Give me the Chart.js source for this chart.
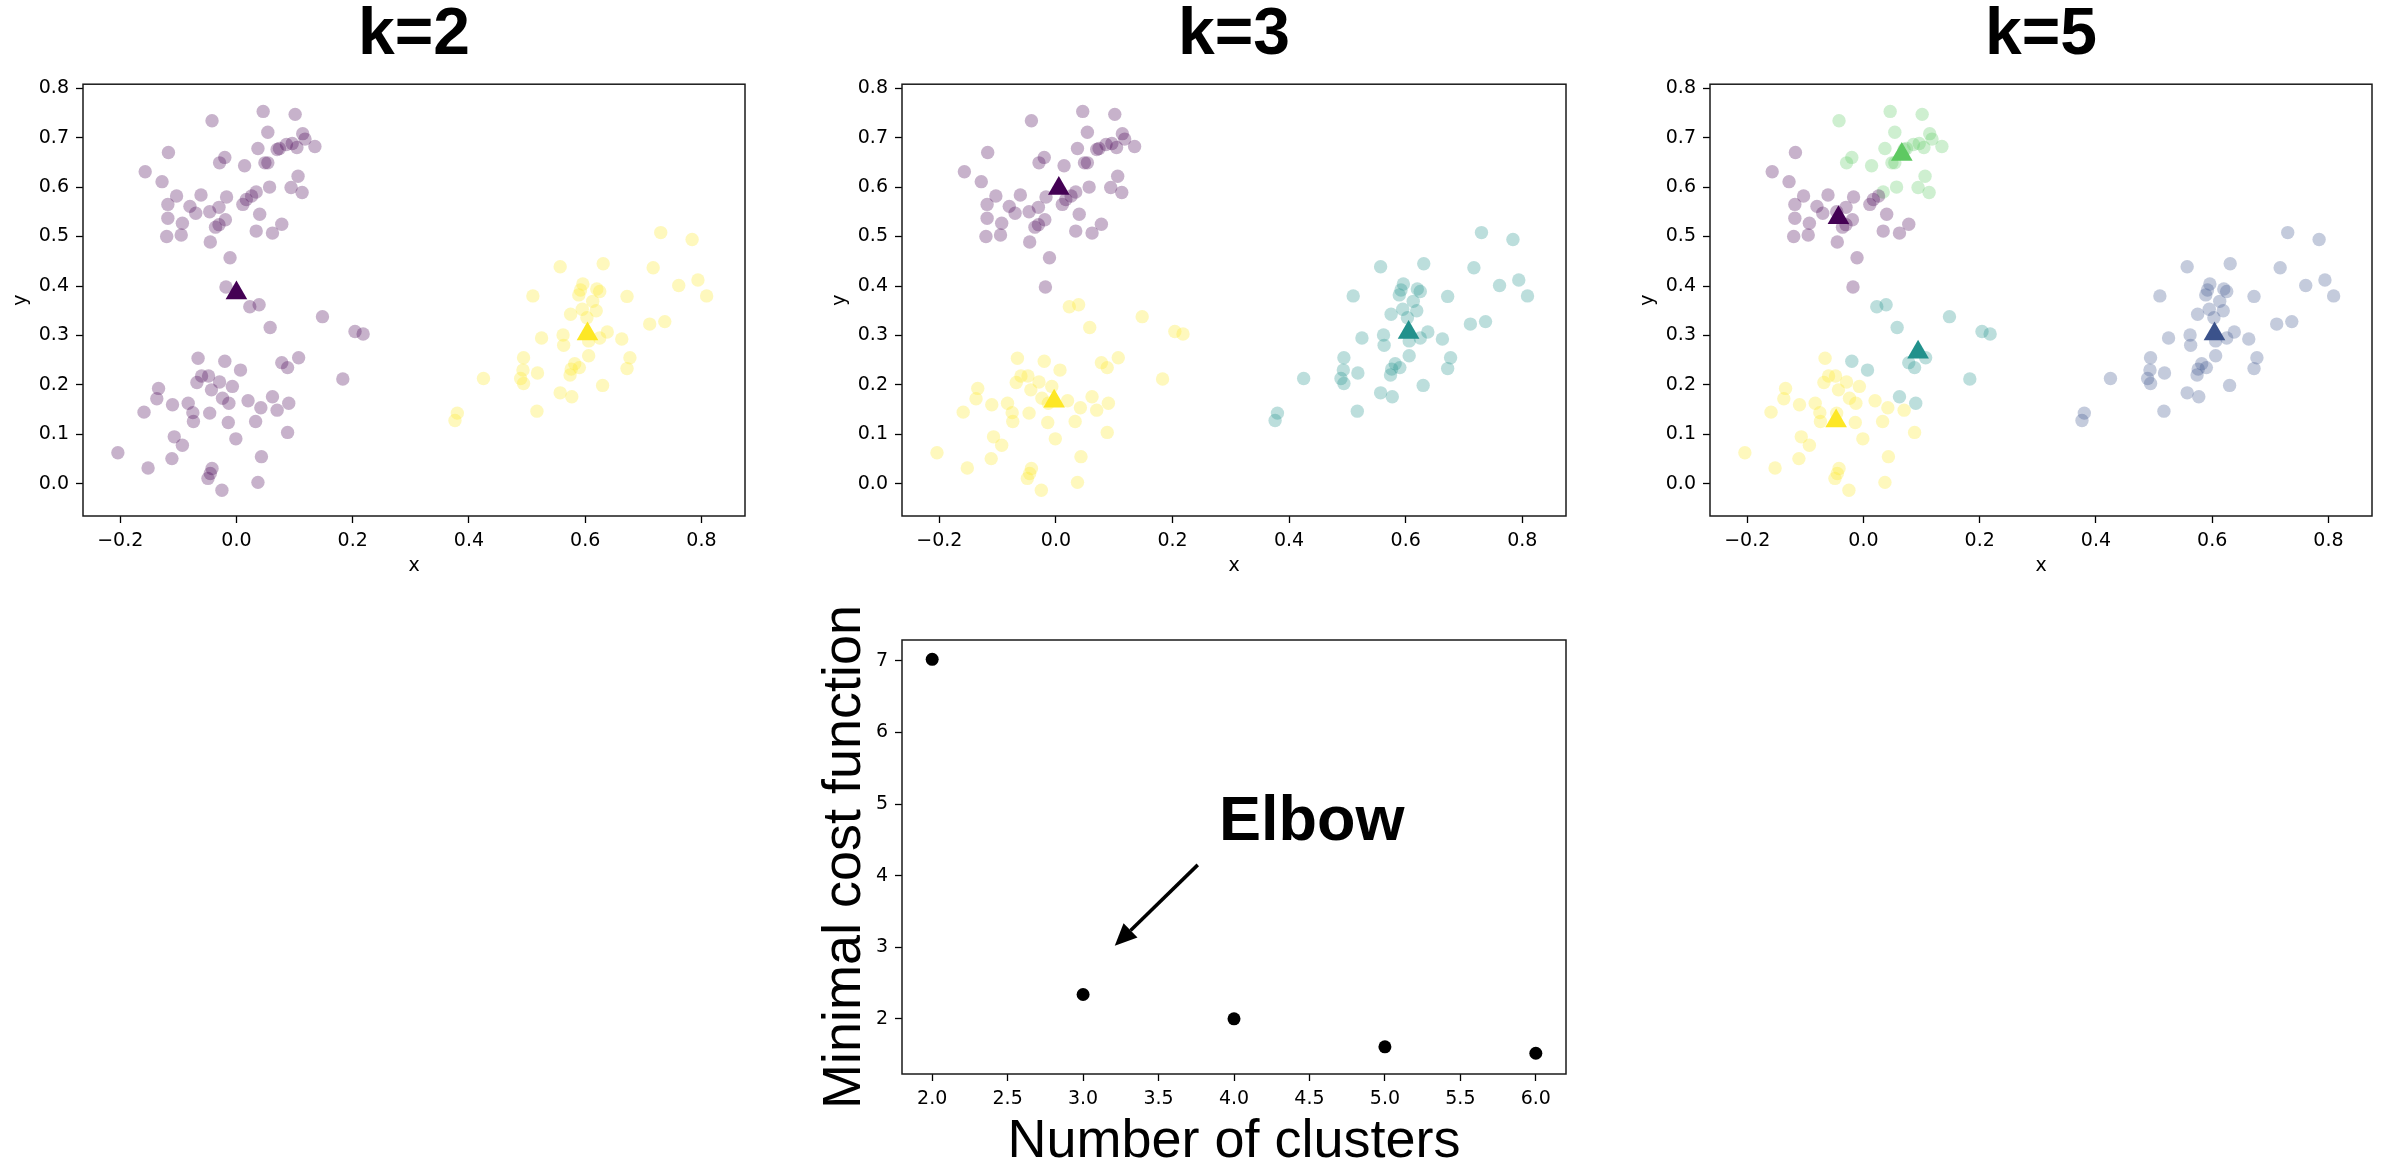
<!DOCTYPE html>
<html>
<head>
<meta charset="utf-8">
<script src="https://cdn.jsdelivr.net/npm/chart.js@4.4.0/dist/chart.umd.min.js"></script>
<style>
  html, body { margin: 0; padding: 0; background: #fff; overflow: hidden; }
  body { width: 2389px; height: 1170px; position: relative; }
  canvas { position: absolute; }
</style>
</head>
<body>
<canvas id="k2Chart"></canvas>
<canvas id="k3Chart"></canvas>
<canvas id="k5Chart"></canvas>
<canvas id="elbowChart"></canvas>
<script>
////////////////////////////////////
/////////////// DATA ///////////////
////////////////////////////////////

// upper-left blob
const topX = [-0.042, 0.046, 0.101, 0.054, 0.114, 0.118, -0.117, 0.037, 0.086, 0.096,
  0.074, 0.070, 0.104, 0.135, -0.020, -0.029, 0.014, 0.049, 0.054, -0.157,
  -0.128, 0.106, 0.094, 0.113, 0.057, -0.103, -0.061, -0.017, 0.034, 0.026,
  0.017, 0.011, -0.118, -0.080, -0.070, -0.046, -0.030, -0.118, -0.093, -0.019,
  -0.030, -0.036, 0.040, 0.078, 0.034, 0.062, -0.120, -0.095, -0.045, -0.011, -0.018];
const topY = [0.734, 0.753, 0.747, 0.711, 0.708, 0.697, 0.670, 0.678, 0.686, 0.688,
  0.678, 0.676, 0.680, 0.682, 0.660, 0.649, 0.643, 0.649, 0.649, 0.631,
  0.611, 0.622, 0.599, 0.589, 0.600, 0.582, 0.584, 0.580, 0.590, 0.582,
  0.575, 0.565, 0.565, 0.561, 0.547, 0.550, 0.559, 0.537, 0.527, 0.534,
  0.524, 0.519, 0.545, 0.525, 0.511, 0.507, 0.500, 0.503, 0.489, 0.457, 0.398];
// 1 = green group when k=5
const topK5 = [1, 1, 1, 1, 1, 1, 0, 1, 1, 1,
  1, 1, 1, 1, 1, 1, 1, 1, 1, 0,
  0, 1, 1, 1, 1, 0, 0, 0, 1, 0,
  0, 0, 0, 0, 0, 0, 0, 0, 0, 0,
  0, 0, 0, 0, 0, 0, 0, 0, 0, 0, 0];

// lower-left blob
const bottomX = [0.023, 0.039, 0.148, 0.058, 0.204, 0.218, -0.066, -0.020, 0.007, 0.078,
  0.088, 0.107, 0.183, -0.134, -0.137, -0.110, -0.159, -0.060, -0.048, -0.068,
  -0.029, -0.043, -0.007, -0.083, -0.075, -0.074, -0.046, -0.024, -0.013, 0.020,
  0.042, 0.062, 0.070, 0.090, -0.014, 0.033, 0.088, -0.001, -0.107, -0.093,
  -0.204, -0.152, -0.111, -0.042, -0.045, -0.049, -0.025, 0.043, 0.037];
const bottomY = [0.358, 0.362, 0.338, 0.316, 0.308, 0.303, 0.254, 0.248, 0.230, 0.245,
  0.235, 0.255, 0.212, 0.193, 0.172, 0.160, 0.145, 0.218, 0.218, 0.205,
  0.206, 0.190, 0.197, 0.163, 0.144, 0.126, 0.143, 0.173, 0.163, 0.168,
  0.154, 0.176, 0.149, 0.163, 0.124, 0.126, 0.104, 0.091, 0.095, 0.078,
  0.063, 0.032, 0.051, 0.031, 0.021, 0.011, -0.013, 0.055, 0.003];
// 1 = teal group when k=5
const bottomK5 = [1, 1, 1, 1, 1, 1, 0, 1, 1, 1,
  1, 1, 1, 0, 0, 0, 0, 0, 0, 0,
  0, 0, 0, 0, 0, 0, 0, 0, 0, 0,
  0, 1, 0, 1, 0, 0, 0, 0, 0, 0,
  0, 0, 0, 0, 0, 0, 0, 0, 0];

// right blob
const rightX = [0.730, 0.784, 0.557, 0.631, 0.717, 0.794, 0.761, 0.809, 0.510, 0.596,
  0.592, 0.589, 0.620, 0.625, 0.613, 0.672, 0.595, 0.619, 0.575, 0.603,
  0.711, 0.737, 0.638, 0.625, 0.606, 0.562, 0.525, 0.563, 0.663, 0.606,
  0.494, 0.677, 0.672, 0.582, 0.590, 0.576, 0.574, 0.493, 0.518, 0.489,
  0.494, 0.425, 0.557, 0.577, 0.630, 0.517, 0.380, 0.376];
const rightY = [0.508, 0.494, 0.439, 0.445, 0.437, 0.412, 0.401, 0.380, 0.380, 0.404,
  0.392, 0.382, 0.394, 0.389, 0.369, 0.379, 0.353, 0.350, 0.343, 0.336,
  0.323, 0.328, 0.307, 0.295, 0.289, 0.301, 0.295, 0.280, 0.293, 0.259,
  0.255, 0.255, 0.233, 0.243, 0.235, 0.232, 0.220, 0.230, 0.224, 0.213,
  0.203, 0.213, 0.184, 0.176, 0.199, 0.147, 0.143, 0.128];

// cluster centres
const k2CentX = [0.000, 0.604];
const k2CentY = [0.386, 0.303];
const k3CentX = [0.005, -0.003, 0.605];
const k3CentY = [0.597, 0.167, 0.306];
const k5CentX = [-0.043, 0.066, -0.047, 0.094, 0.604];
const k5CentY = [0.538, 0.666, 0.127, 0.266, 0.303];

// elbow curve
const kValues = [2, 3, 4, 5, 6];
const costValues = [7.02, 2.34, 2.0, 1.61, 1.52];

// ticks
const xyTicksX = [-0.2, 0.0, 0.2, 0.4, 0.6, 0.8];
const xyTicksY = [0.0, 0.1, 0.2, 0.3, 0.4, 0.5, 0.6, 0.7, 0.8];
const elbowTicksX = [2.0, 2.5, 3.0, 3.5, 4.0, 4.5, 5.0, 5.5, 6.0];
const elbowTicksY = [2, 3, 4, 5, 6, 7];

// annotation
const noteText = 'Elbow';
const noteAt = [3.9, 4.5];
const arrowFrom = [3.76, 4.15];
const arrowTo = [3.21, 3.02];

////////////////////////////////////
////////////// HELPERS /////////////
////////////////////////////////////

const PURPLE = '#440154';
const BLUE = '#3b528b';
const TEAL = '#21918c';
const GREEN = '#5ec962';
const YELLOW = '#fde725';

const tickFont = { family: 'DejaVu Sans', size: 19 };

function alpha(hex, a) {
  const n = parseInt(hex.slice(1), 16);
  return `rgba(${(n >> 16) & 255}, ${(n >> 8) & 255}, ${n & 255}, ${a})`;
}

function toPoints(xs, ys, keep) {
  const out = [];
  xs.forEach((x, i) => {
    if (!keep || keep(i)) out.push({ x: x, y: ys[i] });
  });
  return out;
}

function fmt1(v) {
  return v.toFixed(1).replace('-', '\u2212');
}

function cloud(points, color) {
  return {
    data: points,
    backgroundColor: alpha(color, 0.3),
    borderWidth: 0,
    pointRadius: 6.7,
    pointStyle: 'circle',
    order: 2,
  };
}

function centre(x, y, color) {
  return {
    data: [{ x: x, y: y }],
    backgroundColor: color,
    borderWidth: 0,
    pointRadius: 12.5,
    pointStyle: 'triangle',
    order: 1,
  };
}

// axes box on all four sides
const frame = {
  id: 'frame',
  afterDraw(chart) {
    const { ctx, chartArea: a } = chart;
    ctx.save();
    ctx.strokeStyle = '#1a1a1a';
    ctx.lineWidth = 1.5;
    ctx.strokeRect(a.left, a.top, a.right - a.left, a.bottom - a.top);
    ctx.restore();
  },
};

function place(id, left, top, width, height) {
  const c = document.getElementById(id);
  c.width = width;
  c.height = height;
  c.style.left = left + 'px';
  c.style.top = top + 'px';
  return c;
}

function axisCommon(ticks, fmt) {
  return {
    type: 'linear',
    afterBuildTicks: (s) => {
      s.ticks = ticks.map((v) => ({ value: v }));
    },
    grid: {
      drawOnChartArea: false,
      drawTicks: true,
      tickLength: 7,
      tickColor: '#000',
      tickWidth: 1.3,
    },
    border: { display: false },
    ticks: {
      color: '#000',
      font: tickFont,
      padding: 7,
      maxRotation: 0,
      autoSkip: false,
      callback: fmt,
    },
  };
}

////////////////////////////////////
/////////// SCATTER CHARTS /////////
////////////////////////////////////

function scatterChart(id, left, width, title, datasets) {
  const ctx = place(id, left, -4, width, 581);
  const xAxis = axisCommon(xyTicksX, fmt1);
  xAxis.min = -0.264;
  xAxis.max = 0.875;
  xAxis.afterFit = (s) => { s.height = 61; };
  xAxis.title = { display: true, text: 'x', color: '#000', font: tickFont, padding: 0 };

  const yAxis = axisCommon(xyTicksY, fmt1);
  yAxis.min = -0.065;
  yAxis.max = 0.808;
  yAxis.afterFit = (s) => { s.width = 83; };
  yAxis.title = { display: true, text: 'y', color: '#000', font: tickFont, padding: { top: 10, bottom: 0 } };

  return new Chart(ctx, {
    type: 'scatter',
    data: { datasets: datasets },
    options: {
      responsive: false,
      animation: false,
      events: [],
      layout: { padding: { left: 0, right: 15, top: 0, bottom: 0 } },
      plugins: {
        legend: { display: false },
        tooltip: { enabled: false },
        title: {
          display: true,
          fullSize: false,
          text: title,
          color: '#000',
          font: { family: 'Liberation Sans', size: 66, weight: 'bold', lineHeight: 1.2 },
          padding: { top: 0, bottom: 9 },
        },
      },
      scales: { x: xAxis, y: yAxis },
    },
    plugins: [frame],
  });
}

scatterChart('k2Chart', 0, 760, 'k=2', [
  centre(k2CentX[0], k2CentY[0], PURPLE),
  centre(k2CentX[1], k2CentY[1], YELLOW),
  cloud(toPoints(topX, topY).concat(toPoints(bottomX, bottomY)), PURPLE),
  cloud(toPoints(rightX, rightY), YELLOW),
]);

scatterChart('k3Chart', 819, 762, 'k=3', [
  centre(k3CentX[0], k3CentY[0], PURPLE),
  centre(k3CentX[1], k3CentY[1], YELLOW),
  centre(k3CentX[2], k3CentY[2], TEAL),
  cloud(toPoints(topX, topY), PURPLE),
  cloud(toPoints(bottomX, bottomY), YELLOW),
  cloud(toPoints(rightX, rightY), TEAL),
]);

scatterChart('k5Chart', 1627, 760, 'k=5', [
  centre(k5CentX[0], k5CentY[0], PURPLE),
  centre(k5CentX[1], k5CentY[1], GREEN),
  centre(k5CentX[2], k5CentY[2], YELLOW),
  centre(k5CentX[3], k5CentY[3], TEAL),
  centre(k5CentX[4], k5CentY[4], BLUE),
  cloud(toPoints(topX, topY, (i) => topK5[i] === 0), PURPLE),
  cloud(toPoints(topX, topY, (i) => topK5[i] === 1), GREEN),
  cloud(toPoints(bottomX, bottomY, (i) => bottomK5[i] === 0), YELLOW),
  cloud(toPoints(bottomX, bottomY, (i) => bottomK5[i] === 1), TEAL),
  cloud(toPoints(rightX, rightY), BLUE),
]);

////////////////////////////////////
//////////// ELBOW CHART ///////////
////////////////////////////////////

const elbowNote = {
  id: 'elbowNote',
  afterDatasetsDraw(chart) {
    const { ctx, scales: { x, y } } = chart;
    ctx.save();
    ctx.fillStyle = '#000';
    ctx.strokeStyle = '#000';
    ctx.font = 'bold 63px "Liberation Sans"';
    ctx.textBaseline = 'alphabetic';
    ctx.textAlign = 'left';
    ctx.fillText(noteText, x.getPixelForValue(noteAt[0]), y.getPixelForValue(noteAt[1]));

    const x0 = x.getPixelForValue(arrowFrom[0]);
    const y0 = y.getPixelForValue(arrowFrom[1]);
    const x1 = x.getPixelForValue(arrowTo[0]);
    const y1 = y.getPixelForValue(arrowTo[1]);
    const ang = Math.atan2(y1 - y0, x1 - x0);
    const head = 22;
    const half = 10;
    const bx = x1 - head * Math.cos(ang);
    const by = y1 - head * Math.sin(ang);
    ctx.lineWidth = 3.5;
    ctx.beginPath();
    ctx.moveTo(x0, y0);
    ctx.lineTo(bx, by);
    ctx.stroke();
    ctx.beginPath();
    ctx.moveTo(x1, y1);
    ctx.lineTo(bx + half * Math.sin(ang), by - half * Math.cos(ang));
    ctx.lineTo(bx - half * Math.sin(ang), by + half * Math.cos(ang));
    ctx.closePath();
    ctx.fill();
    ctx.restore();
  },
};

function elbowChart() {
  const ctx = place('elbowChart', 790, 560, 791, 615);
  const labelFont = { family: 'Liberation Sans', size: 54, lineHeight: 1.2 };

  const xAxis = axisCommon(elbowTicksX, fmt1);
  xAxis.min = 1.8;
  xAxis.max = 6.2;
  xAxis.afterFit = (s) => { s.height = 101; };
  xAxis.title = { display: true, text: 'Number of clusters', color: '#000', font: labelFont, padding: 0 };

  const yAxis = axisCommon(elbowTicksY, (v) => String(v));
  yAxis.min = 1.23;
  yAxis.max = 7.29;
  yAxis.afterFit = (s) => { s.width = 112; };
  yAxis.title = { display: true, text: 'Minimal cost function', color: '#000', font: labelFont, padding: { top: 23, bottom: 0 } };

  return new Chart(ctx, {
    type: 'scatter',
    data: {
      datasets: [
        {
          data: kValues.map((k, i) => ({ x: k, y: costValues[i] })),
          backgroundColor: '#000',
          borderWidth: 0,
          pointRadius: 6.5,
        },
      ],
    },
    options: {
      responsive: false,
      animation: false,
      events: [],
      layout: { padding: { left: 0, right: 15, top: 80, bottom: 0 } },
      plugins: {
        legend: { display: false },
        tooltip: { enabled: false },
      },
      scales: { x: xAxis, y: yAxis },
    },
    plugins: [frame, elbowNote],
  });
}

elbowChart();
</script>
</body>
</html>
